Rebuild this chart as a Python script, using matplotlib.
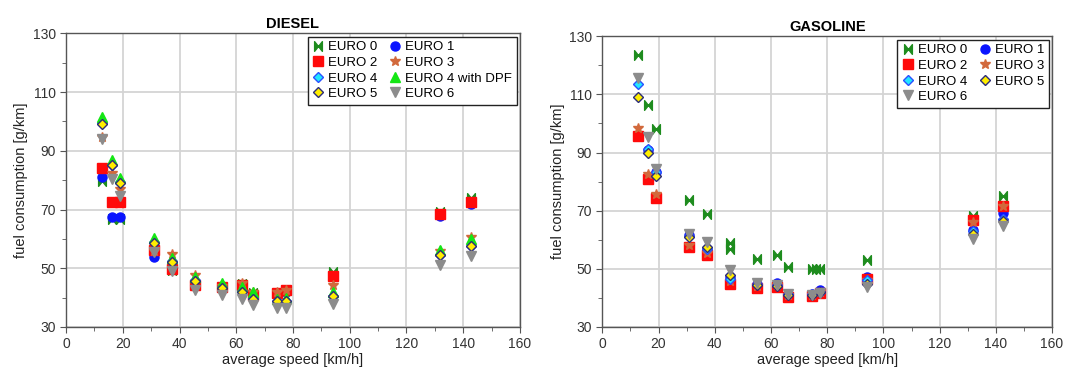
import matplotlib
matplotlib.use('Agg')
from matplotlib import pyplot as plt
from matplotlib.path import Path
from matplotlib.ticker import MultipleLocator

# average speed of the driving cycles [km/h]
speed = [12.8, 16.1, 19.1, 31.0, 37.3, 45.3, 55.0, 62.0, 66.0, 74.5, 77.4, 94.1, 131.9, 142.7]
speed_gas_euro0 = [12.8, 16.1, 19.1, 31.0, 37.3, 45.3, 45.3, 55.0, 62.0, 66.0,
                   74.5, 76.0, 77.4, 94.1, 131.9, 142.7]

# diesel fuel consumption [g/km]
diesel_euro0 = [79.8, 66.7, 66.7, 55.0, 49.5, 44.5, 43.5, 44.5, 41.5, 41.5, 42.5, 48.8, 69.3, 74.0]
diesel_euro1 = [81.1, 67.5, 67.5, 53.8, 50.0, 45.0, 43.3, 43.8, 40.8, 41.0, 42.0, 47.5, 67.8, 72.0]
diesel_euro2 = [84.3, 72.6, 72.6, 56.2, 49.9, 44.2, 43.6, 44.3, 41.0, 41.6, 42.7, 47.5, 68.6, 72.7]
diesel_euro3 = [94.6, 82.3, 77.0, 56.0, 55.0, 47.7, 44.0, 45.0, 41.8, 41.8, 42.5, 44.2, 56.0, 60.7]
diesel_euro4 = [99.3, 85.3, 79.3, 58.8, 52.3, 46.0, 43.5, 42.2, 39.9, 38.9, 38.9, 40.7, 54.6, 57.7]
diesel_euro4_dpf = [101.6, 86.9, 80.8, 60.2, 53.6, 47.0, 45.0, 43.6, 41.9, 39.7, 39.9, 41.9, 56.1, 60.1]
diesel_euro5 = [99.1, 85.1, 79.0, 58.5, 52.1, 45.8, 43.4, 42.0, 39.7, 38.8, 38.7, 40.5, 54.4, 57.5]
diesel_euro6 = [94.0, 80.4, 74.7, 55.7, 49.1, 42.5, 40.8, 39.7, 37.4, 36.5, 36.4, 37.7, 51.0, 54.1]

# gasoline fuel consumption [g/km]
gas_euro0 = [123.7, 106.3, 98.0, 73.6, 69.0, 58.8, 56.7, 53.4, 54.8, 50.6,
             50.0, 50.0, 50.1, 52.9, 68.3, 75.2]
gas_euro1 = [96.0, 91.0, 83.3, 61.5, 57.0, 47.2, 44.9, 45.1, 41.3, 41.5, 42.8, 47.3, 63.5, 69.3]
gas_euro2 = [95.7, 80.9, 74.3, 57.4, 54.9, 44.7, 43.4, 43.8, 40.3, 40.7, 41.7, 46.5, 66.7, 71.6]
gas_euro3 = [98.5, 82.7, 75.6, 58.1, 55.6, 45.8, 44.0, 44.3, 41.0, 41.0, 42.0, 46.3, 66.1, 71.6]
gas_euro4 = [113.6, 91.2, 83.3, 61.2, 56.7, 46.6, 44.7, 44.6, 41.2, 41.2, 42.2, 46.1, 62.9, 67.0]
gas_euro5 = [109.2, 89.7, 82.1, 60.8, 57.5, 47.8, 44.3, 44.1, 40.9, 41.0, 42.0, 44.9, 62.1, 66.4]
gas_euro6 = [115.6, 95.2, 84.2, 62.1, 59.4, 49.5, 45.3, 44.6, 41.5, 40.9, 41.7, 43.8, 60.1, 64.6]

y_ticks = [30, 50, 70, 90, 110, 130]

plt.rcParams['font.family'] = ['Liberation Sans', 'DejaVu Sans']

# bow-tie marker for EURO 0
bowtie = Path([(-0.8, -1), (0, 0), (-0.8, 1), (-0.8, -1),
               (0.8, -1), (0, 0), (0.8, 1), (0.8, -1)],
              [Path.MOVETO, Path.LINETO, Path.LINETO, Path.CLOSEPOLY,
               Path.MOVETO, Path.LINETO, Path.LINETO, Path.CLOSEPOLY])

styles = {
    'EURO 0': dict(marker=bowtie, color='#1e8c1e', mec='#1e8c1e', ms=7),
    'EURO 1': dict(marker='o', color='#0a14ff', mec='#0a14ff', ms=6.5),
    'EURO 2': dict(marker='s', color='#ff0a0a', mec='#ff0a0a', ms=6.5),
    'EURO 3': dict(marker='*', color='#d2693c', mec='#d2693c', ms=7.5),
    'EURO 4': dict(marker='D', color='#22e6ff', mec='#2a50ff', ms=5, mew=1.0),
    'EURO 4 with DPF': dict(marker='^', color='#14e614', mec='#14e614', ms=7),
    'EURO 5': dict(marker='D', color='#ffee00', mec='#2c2c78', ms=5, mew=1.0),
    'EURO 6': dict(marker='v', color='#8c8c8c', mec='#8c8c8c', ms=7),
}

fig = plt.figure(figsize=(10.67, 3.71), dpi=100)
ax1 = fig.add_axes([0.0619, 0.1186, 0.4254, 0.7917])
ax2 = fig.add_axes([0.5645, 0.1186, 0.4215, 0.7836])


def style_axes(ax, title):
    ax.set_xlim(0, 160)
    ax.set_ylim(30, 130)
    ax.xaxis.set_major_locator(MultipleLocator(20))
    ax.xaxis.set_minor_locator(MultipleLocator(10))
    ax.set_yticks(y_ticks)
    ax.yaxis.set_minor_locator(MultipleLocator(10))
    ax.grid(True, which='major', color='#d4d4d4', linewidth=1.3)
    ax.set_axisbelow(True)
    ax.tick_params(which='both', direction='out', colors='#555555',
                   labelcolor='#333333', labelsize=10)
    ax.tick_params(which='major', length=4)
    ax.tick_params(which='minor', length=3)
    for s in ax.spines.values():
        s.set_color('#555555')
        s.set_linewidth(1.0)
    ax.set_xlabel('average speed [km/h]', fontsize=10.5, color='#222222', labelpad=1)
    ax.set_ylabel('fuel consumption [g/km]', fontsize=10.5, color='#222222', labelpad=3)
    ax.set_title(title, fontsize=10.5, fontweight='bold', pad=4)


def draw(ax, x, y, name):
    return ax.plot(x, y, linestyle='none', label=name, **styles[name])[0]


# DIESEL
h = {}
h['EURO 0'] = draw(ax1, speed, diesel_euro0, 'EURO 0')
h['EURO 1'] = draw(ax1, speed, diesel_euro1, 'EURO 1')
h['EURO 2'] = draw(ax1, speed, diesel_euro2, 'EURO 2')
h['EURO 3'] = draw(ax1, speed, diesel_euro3, 'EURO 3')
h['EURO 4'] = draw(ax1, speed, diesel_euro4, 'EURO 4')
h['EURO 4 with DPF'] = draw(ax1, speed, diesel_euro4_dpf, 'EURO 4 with DPF')
h['EURO 5'] = draw(ax1, speed, diesel_euro5, 'EURO 5')
h['EURO 6'] = draw(ax1, speed, diesel_euro6, 'EURO 6')
style_axes(ax1, 'DIESEL')
order = ['EURO 0', 'EURO 2', 'EURO 4', 'EURO 5', 'EURO 1', 'EURO 3', 'EURO 4 with DPF', 'EURO 6']
leg = ax1.legend([h[k] for k in order], order, ncol=2, loc='upper right',
                 fontsize=9.5, frameon=True, fancybox=False, framealpha=1,
                 edgecolor='#222222', borderaxespad=0.25, labelspacing=0.25,
                 handlelength=0.9, handletextpad=0.3, columnspacing=0.9,
                 borderpad=0.35)
leg.get_frame().set_linewidth(1.0)

# GASOLINE
g = {}
g['EURO 0'] = draw(ax2, speed_gas_euro0, gas_euro0, 'EURO 0')
g['EURO 1'] = draw(ax2, speed, gas_euro1, 'EURO 1')
g['EURO 2'] = draw(ax2, speed, gas_euro2, 'EURO 2')
g['EURO 3'] = draw(ax2, speed, gas_euro3, 'EURO 3')
g['EURO 4'] = draw(ax2, speed, gas_euro4, 'EURO 4')
g['EURO 5'] = draw(ax2, speed, gas_euro5, 'EURO 5')
g['EURO 6'] = draw(ax2, speed, gas_euro6, 'EURO 6')
style_axes(ax2, 'GASOLINE')
order = ['EURO 0', 'EURO 2', 'EURO 4', 'EURO 6', 'EURO 1', 'EURO 3', 'EURO 5']
leg = ax2.legend([g[k] for k in order], order, ncol=2, loc='upper right',
                 fontsize=9.5, frameon=True, fancybox=False, framealpha=1,
                 edgecolor='#222222', borderaxespad=0.25, labelspacing=0.25,
                 handlelength=0.9, handletextpad=0.3, columnspacing=0.9,
                 borderpad=0.35)
leg.get_frame().set_linewidth(1.0)

fig.savefig('out.png', dpi=100)
